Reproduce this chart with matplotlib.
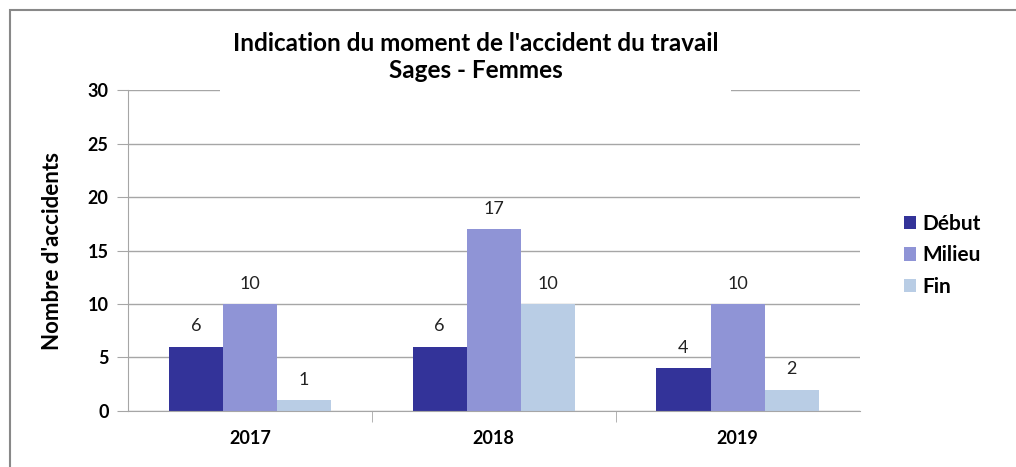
import matplotlib.pyplot as plt
import numpy as np
from matplotlib.patches import Rectangle

plt.rcParams['font.family'] = ['Lato', 'DejaVu Sans']

years = ['2017', '2018', '2019']
debut = [6, 6, 4]
milieu = [10, 17, 10]
fin = [1, 10, 2]
series = [('Début', debut, '#333399'), ('Milieu', milieu, '#8f94d6'), ('Fin', fin, '#b9cde5')]

fig = plt.figure(figsize=(10.16, 4.67), dpi=100)
ax = fig.add_axes([0.126, 0.12, 0.72, 0.687])

x = np.arange(len(years))
w = 0.222
for i, (name, vals, col) in enumerate(series):
    bars = ax.bar(x + (i - 1) * w, vals, w, color=col, label=name, zorder=2)
    for b, v in zip(bars, vals):
        ax.annotate(str(v), (b.get_x() + b.get_width() / 2, v), xytext=(0, 9),
                    textcoords='offset points', ha='center', va='bottom', fontsize=13, color='#222222')

ax.set_xlim(-0.5, 2.5)
ax.set_ylim(0, 30)
ax.set_yticks(range(0, 31, 5))
ax.set_yticklabels([str(v) for v in range(0, 31, 5)], fontweight='bold', fontsize=13)
ax.yaxis.grid(True, color='#a6a6a6', lw=1, zorder=0)
ax.set_axisbelow(True)

ax.set_xticks(x)
ax.set_xticklabels(years, fontweight='bold', fontsize=13)
ax.tick_params(axis='x', length=0, pad=14)
ax.set_xticks([0.5, 1.5], minor=True)
ax.tick_params(axis='x', which='minor', length=8, color='#a6a6a6')
ax.tick_params(axis='y', length=8, color='#a6a6a6', pad=6)

for s in ['top', 'right']:
    ax.spines[s].set_visible(False)
ax.spines['left'].set_color('#a6a6a6')
ax.spines['bottom'].set_color('#a6a6a6')

ax.set_ylabel("Nombre d'accidents", fontsize=16, fontweight='bold', labelpad=18)

fig.text(0.468, 0.878, "Indication du moment de l'accident du travail\nSages - Femmes",
         ha='center', va='center', fontsize=17.5, fontweight='bold', linespacing=1.25,
         bbox=dict(facecolor='white', edgecolor='none', pad=9))

ax.legend(loc='center left', bbox_to_anchor=(1.035, 0.485), frameon=False,
          prop={'weight': 'bold', 'size': 15}, handlelength=0.6, handleheight=0.6,
          handletextpad=0.3, labelspacing=0.55)

fig.patches.append(Rectangle((10 / 1016, -0.1), 1.1, 0.1 + 457 / 467, transform=fig.transFigure,
                             fill=False, edgecolor='#888888', lw=1.5))

fig.savefig('out.png', dpi=100)
